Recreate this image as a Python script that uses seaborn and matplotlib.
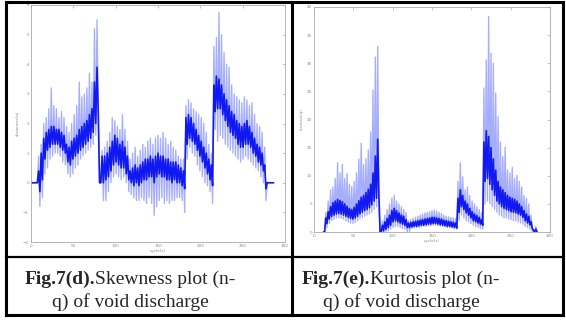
import numpy as np
import pandas as pd
import matplotlib
matplotlib.use("Agg")
import matplotlib.pyplot as plt
from matplotlib.lines import Line2D
import seaborn as sns

# cycle grid shared by both traces
cycles = list(range(0, 288, 3))

# n-q skewness: spike extremes (hi/lo) and dense core band (core_hi/core_lo)
skew_hi = [0, 0, 0, 0.9, 1.3, 2.0, 2.2, 2.5, 3.2, 2.6, 2.5, 2.2, 2.4, 2.2, 1.9, 1.7,
           2.0, 2.3, 2.6, 3.4, 2.9, 3.0, 3.2, 3.7, 3.4, 5.2, 5.5, 0, 1.1, 1.2, 1.4, 1.7,
           2.2, 2.1, 1.9, 1.8, 2.3, 1.8, 1.4, 0.8, 1.0, 1.2, 0.9, 1.1, 1.3, 1.2, 1.4, 1.5,
           1.3, 1.5, 1.6, 1.5, 1.7, 1.5, 1.3, 1.4, 1.2, 1.1, 0.9, 0.8, 0.8, 2.6, 2.8, 2.7,
           2.5, 2.4, 2.3, 2.2, 2.0, 1.7, 1.3, 1.0, 4.6, 4.9, 5.75, 5.0, 4.4, 4.0, 3.9, 3.3,
           3.0, 2.9, 2.8, 2.7, 2.9, 2.8, 2.6, 2.7, 2.3, 2.0, 1.9, 1.7, 1.2, 0, 0, 0]
skew_lo = [0, 0, 0, -0.8, -0.5, 0.3, 0.5, 0.8, 0.9, 1.0, 1.0, 0.9, 0.7, 0.6, 0.3, 0.2,
           0.3, 0.5, 0.6, 0.8, 0.9, 1.0, 1.1, 1.2, 1.3, 1.6, 2.0, 0, -0.6, -0.6, -0.3, 0.0,
           0.2, 0.3, 0.2, 0.1, 0.2, 0.0, -0.3, -0.4, -0.5, -0.6, -0.6, -0.5, -0.6, -0.7, -0.5, -0.7,
           -1.1, -0.8, -0.6, -0.5, -0.7, -0.6, -0.7, -0.6, -0.6, -0.5, -0.5, -0.6, -1.0, 0.8, 1.2, 1.0,
           0.9, 0.6, 0.4, 0.2, 0.0, -0.1, -0.3, -0.7, 1.8, 1.4, 1.6, 1.5, 1.3, 1.2, 1.1, 1.0,
           0.9, 0.8, 0.7, 0.8, 0.9, 0.8, 0.7, 0.6, 0.5, 0.4, 0.2, 0.0, -0.6, 0, 0, 0]
skew_core_hi = [0, 0, 0, 0.4, 1.0, 1.5, 1.7, 1.8, 1.9, 1.9, 1.8, 1.8, 1.7, 1.6, 1.3, 1.2,
                1.4, 1.5, 1.6, 1.8, 1.9, 2.0, 2.1, 2.3, 2.5, 3.4, 3.9, 0, 0.9, 0.9, 1.0, 1.2,
                1.4, 1.6, 1.5, 1.3, 1.4, 1.2, 0.9, 0.4, 0.5, 0.6, 0.5, 0.6, 0.7, 0.8, 0.8, 0.9,
                0.8, 0.9, 1.0, 0.9, 0.9, 0.8, 0.8, 0.7, 0.7, 0.7, 0.6, 0.5, 0.4, 2.2, 2.3, 2.2,
                2.0, 1.8, 1.6, 1.4, 1.2, 1.0, 0.8, 0.6, 3.3, 3.6, 3.5, 3.3, 3.0, 2.8, 2.6, 2.4,
                2.3, 2.1, 2.0, 1.9, 2.0, 2.1, 1.9, 1.7, 1.5, 1.3, 1.2, 1.0, 0.6, 0, 0, 0]
skew_core_lo = [0, 0, 0, -0.3, 0.1, 0.8, 1.1, 1.2, 1.3, 1.3, 1.3, 1.2, 1.1, 1.0, 0.7, 0.6,
                0.8, 0.9, 1.0, 1.1, 1.2, 1.3, 1.4, 1.5, 1.7, 2.0, 2.3, 0, 0.0, 0.1, 0.2, 0.4,
                0.6, 0.7, 0.6, 0.5, 0.5, 0.3, 0.1, 0.0, -0.1, 0.0, -0.1, 0.0, 0.1, 0.1, 0.2, 0.2,
                0.0, 0.2, 0.3, 0.2, 0.2, 0.1, 0.1, 0.0, 0.1, 0.0, 0.0, -0.1, -0.2, 1.3, 1.5, 1.4,
                1.3, 1.1, 0.9, 0.7, 0.5, 0.3, 0.1, -0.1, 2.4, 2.5, 2.5, 2.3, 2.1, 1.9, 1.7, 1.6,
                1.5, 1.3, 1.2, 1.2, 1.3, 1.3, 1.2, 1.0, 0.9, 0.7, 0.6, 0.4, -0.2, 0, 0, 0]

nan = float("nan")
# n-q kurtosis: spike extremes and dense core band
kurt_hi = [nan, nan, nan, nan, 0, 3.5, 5.5, 7.5, 8.0, 9.5, 12.3, 10.5, 12.0, 9.5, 10.4, 8.5,
           8.1, 9.0, 10.5, 13.0, 15.8, 12.0, 13.0, 14.6, 17.8, 25.2, 31.1, 33.0, 0, 2.0, 3.0, 4.0,
           5.0, 6.0, 6.5, 5.5, 5.0, 4.5, 4.0, 3.5, 2.0, 2.2, 2.4, 2.6, 2.8, 3.0, 3.2, 3.4,
           3.5, 3.6, 3.8, 3.9, 3.7, 3.5, 3.3, 3.0, 2.8, 2.7, 2.6, 2.5, 2.4, 9.0, 12.3, 9.8,
           7.5, 8.0, 6.5, 5.5, 5.0, 4.5, 4.0, 3.5, 25.6, 30.6, 38.3, 31.8, 30.0, 24.7, 20.5, 16.0,
           13.4, 15.1, 11.0, 10.5, 11.5, 9.5, 10.1, 9.0, 8.0, 6.5, 6.0, 5.0, 3.0, 0.5, 1.0, nan]
kurt_lo = [nan, nan, nan, nan, 0, 0.8, 1.5, 2.0, 2.2, 2.5, 2.5, 2.4, 2.3, 2.0, 1.8, 1.6,
           1.5, 1.7, 2.0, 2.3, 2.6, 2.8, 3.0, 3.2, 3.5, 4.0, 4.5, 5.0, 0, 0.0, 0.0, 0.2,
           0.5, 0.8, 1.0, 1.0, 0.8, 0.6, 0.5, 0.0, 0.0, 0.6, 0.7, 0.8, 0.8, 0.9, 1.0, 1.0,
           1.1, 1.1, 1.2, 1.2, 1.1, 1.0, 1.0, 0.9, 0.8, 0.8, 0.7, 0.6, 0.5, 2.0, 3.0, 2.5,
           2.0, 1.8, 1.5, 1.2, 1.0, 0.8, 0.6, 0.5, 5.0, 5.5, 5.0, 4.5, 4.0, 3.5, 3.0, 2.8,
           2.5, 2.5, 2.3, 2.2, 2.0, 2.0, 1.8, 1.6, 1.4, 1.0, 0.8, 0.5, 0.0, 0, 0, nan]
kurt_core_hi = [nan, nan, nan, nan, 0, 2.5, 3.6, 4.5, 5.2, 5.5, 5.8, 5.6, 5.4, 5.0, 4.6, 4.2,
                4.0, 4.4, 5.0, 5.6, 6.2, 6.5, 7.0, 7.6, 8.5, 10.5, 13.5, 16.5, 0, 1.2, 1.8, 2.4,
                3.0, 3.8, 4.2, 3.8, 3.4, 3.0, 2.8, 2.2, 1.6, 1.7, 1.8, 1.9, 2.0, 2.1, 2.2, 2.3,
                2.4, 2.5, 2.6, 2.6, 2.5, 2.4, 2.3, 2.1, 2.0, 1.9, 1.8, 1.7, 1.6, 6.0, 7.5, 6.5,
                5.5, 5.0, 4.2, 3.6, 3.2, 2.9, 2.6, 2.2, 16.0, 18.0, 17.0, 15.0, 13.0, 11.0, 9.0, 8.0,
                7.5, 7.0, 6.5, 6.2, 6.0, 5.8, 5.5, 5.0, 4.5, 3.8, 3.2, 2.8, 1.8, 0.3, 0.5, nan]
kurt_core_lo = [nan, nan, nan, nan, 0, 1.5, 2.3, 2.8, 3.0, 3.2, 3.3, 3.2, 3.0, 2.8, 2.6, 2.4,
                2.3, 2.5, 2.8, 3.2, 3.5, 3.8, 4.0, 4.3, 4.8, 5.5, 6.0, 6.5, 0, 0.2, 0.5, 0.8,
                1.2, 1.8, 2.0, 1.8, 1.6, 1.4, 1.2, 0.8, 0.8, 0.9, 1.0, 1.0, 1.1, 1.2, 1.2, 1.3,
                1.4, 1.4, 1.5, 1.5, 1.4, 1.3, 1.2, 1.1, 1.0, 1.0, 0.9, 0.8, 0.7, 3.5, 4.5, 4.0,
                3.4, 3.0, 2.5, 2.0, 1.8, 1.6, 1.4, 1.2, 9.0, 9.5, 8.5, 7.5, 6.5, 5.5, 5.0, 4.5,
                4.2, 4.0, 3.8, 3.6, 3.5, 3.4, 3.2, 3.0, 2.6, 2.0, 1.6, 1.3, 0.6, 0, 0, nan]

x_ticks = [0, 50, 100, 150, 200, 250, 300]
skew_yticks = [-2, -1, 0, 1, 2, 3, 4, 5, 6]
kurt_yticks = [0, 5, 10, 15, 20, 25, 30, 35, 40]

sns.set_style("white")
plt.rcParams["font.family"] = ["DejaVu Sans"]

W, H = 566, 320
fig = plt.figure(figsize=(W / 100, H / 100), dpi=100)
fig.patch.set_facecolor("white")


def px_axes(x0, y0, x1, y1):
    return fig.add_axes([x0 / W, 1 - y1 / H, (x1 - x0) / W, (y1 - y0) / H])


def zigzag(x, a, b):
    xs = np.column_stack([np.asarray(x, float), np.asarray(x, float) + 1.5]).ravel()
    ys = np.column_stack([np.asarray(a, float), np.asarray(b, float)]).ravel()
    return pd.DataFrame({"cycle": xs, "value": ys}).dropna()


def draw_trace(ax, hi, lo, chi, clo):
    spikes = zigzag(cycles, hi, lo)
    core = zigzag(cycles, chi, clo)
    sns.lineplot(data=spikes, x="cycle", y="value", ax=ax, estimator=None, sort=False,
                 color="#2a3cff", linewidth=0.95, alpha=0.42)
    sns.lineplot(data=core, x="cycle", y="value", ax=ax, estimator=None, sort=False,
                 color="#0008f0", linewidth=1.2, alpha=0.9)


def style_axes(ax, ylim, yticks, ylabel):
    ax.set_xlim(0, 300)
    ax.set_ylim(*ylim)
    ax.set_xticks(x_ticks)
    ax.set_yticks(yticks)
    ax.tick_params(direction="in", length=2, width=0.4, colors="#9a9a9a",
                   labelsize=3, pad=1.5, top=True, right=True,
                   labelcolor="#8a8a8a")
    for s in ax.spines.values():
        s.set_color("#a8a8a8")
        s.set_linewidth(0.6)
    ax.set_xlabel("cycle(s)", fontsize=3, color="#8a8a8a", labelpad=1)
    ax.set_ylabel(ylabel, fontsize=3, color="#8a8a8a", labelpad=2)


ax1 = px_axes(31, 5, 285, 242)
draw_trace(ax1, skew_hi, skew_lo, skew_core_hi, skew_core_lo)
style_axes(ax1, (-2, 6), skew_yticks, "skewness(q)")

ax2 = px_axes(314, 7, 550, 232)
draw_trace(ax2, kurt_hi, kurt_lo, kurt_core_hi, kurt_core_lo)
style_axes(ax2, (0, 40), kurt_yticks, "kurtosis(q)")

# table rules around the two panels and their captions
def rule(x0, y0, x1, y1, lw=2.2):
    fig.add_artist(Line2D([x0 / W, x1 / W], [1 - y0 / H, 1 - y1 / H],
                          color="black", linewidth=lw, solid_capstyle="projecting"))

rule(5.5, 2, 562.5, 2)
rule(5.5, 314.5, 562.5, 314.5)
rule(5.5, 2, 5.5, 314.5)
rule(562.5, 2, 562.5, 314.5)
rule(291.5, 2, 291.5, 314.5)
rule(5.5, 256.5, 562.5, 256.5, lw=1.6)

serif = ["Liberation Serif", "DejaVu Serif"]
renderer = fig.canvas.get_renderer()


def caption(cx, bold, rest, second):
    t1 = fig.text(0, 1 - 284 / H, bold, fontsize=14, fontweight="bold",
                  family=serif, va="baseline", ha="left")
    t2 = fig.text(0, 1 - 284 / H, rest, fontsize=14, family=serif,
                  va="baseline", ha="left")
    w1 = t1.get_window_extent(renderer).width
    w2 = t2.get_window_extent(renderer).width
    left = cx - (w1 + w2) / 2
    t1.set_x(left / W)
    t2.set_x((left + w1) / W)
    fig.text(cx / W, 1 - 307 / H, second, fontsize=14, family=serif,
             va="baseline", ha="center")


caption(130, "Fig.7(d).", "Skewness plot (n-", "q) of void discharge")
caption(401, "Fig.7(e).", "Kurtosis plot (n-", "q) of void discharge")

fig.savefig("out.png", dpi=100, facecolor="white")
